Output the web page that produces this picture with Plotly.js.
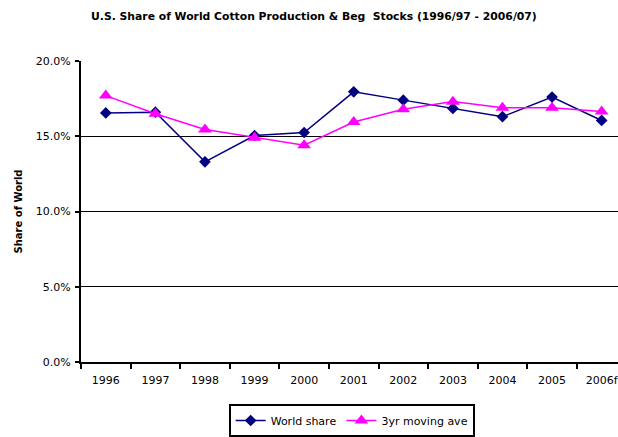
<!DOCTYPE html>
<html>
<head>
<meta charset="utf-8">
<script src="https://cdn.plot.ly/plotly-3.0.1.min.js"></script>
<style>html,body{margin:0;padding:0;background:#fff;}#chart{width:618px;height:437px;}</style>
</head>
<body>
<div id="chart"></div>
<script>
var years = ["1996", "1997", "1998", "1999", "2000", "2001", "2002", "2003", "2004", "2005", "2006f"];
var worldShare = [16.55, 16.6, 13.3, 15.05, 15.25, 17.95, 17.4, 16.85, 16.3, 17.6, 16.05];
var movingAve = [17.7, 16.5, 15.45, 14.9, 14.4, 15.95, 16.8, 17.3, 16.9, 16.9, 16.65];
var yTicks = [0, 5, 10, 15, 20];

var font = "DejaVu Sans, Arial, sans-serif";

var traces = [
  {
    x: years, y: worldShare, name: "World share", type: "scatter", mode: "lines+markers",
    line: {color: "#000080", width: 1.5},
    marker: {symbol: "diamond", size: 9, color: "#000080"}
  },
  {
    x: years, y: movingAve, name: "3yr moving ave", type: "scatter", mode: "lines+markers",
    line: {color: "#FF00FF", width: 1.5},
    marker: {symbol: "triangle-up", size: 12, color: "#FF00FF"}
  }
];

var layout = {
  width: 618, height: 437,
  margin: {l: 81, r: 0, t: 61, b: 74},
  paper_bgcolor: "#fff", plot_bgcolor: "#fff",
  font: {family: font, size: 11, color: "#000"},
  showlegend: true,
  title: {
    text: "U.S. Share of World Cotton Production & Beg  Stocks (1996/97 - 2006/07)",
    font: {family: font, size: 10.8, weight: "bold", color: "#000"},
    xref: "container", x: 0.508, xanchor: "center",
    yref: "container", y: 0.962, yanchor: "middle"
  },
  xaxis: {
    type: "category",
    range: [-0.5, 10.33],
    tickson: "boundaries",
    ticks: "outside", ticklen: 5, tickwidth: 2, tickcolor: "#000",
    showline: true, linecolor: "#000", linewidth: 2,
    showgrid: false, zeroline: false,
    ticklabelstandoff: 7,
    tickfont: {family: font, size: 11, color: "#000"}
  },
  xaxis2: {
    overlaying: "x", side: "top", anchor: "y", range: [0, 1],
    showline: true, linecolor: "#a8a8a8", linewidth: 2,
    showticklabels: false, ticks: "", showgrid: false, zeroline: false
  },
  yaxis: {
    range: [0, 20],
    tickvals: yTicks,
    ticktext: yTicks.map(function (v) { return v.toFixed(1) + "%"; }),
    ticks: "outside", ticklen: 4, tickwidth: 2, tickcolor: "#000",
    showline: true, linecolor: "#000", linewidth: 2,
    showgrid: true, gridcolor: "#000", gridwidth: 1,
    zeroline: false,
    ticklabelstandoff: 2,
    tickfont: {family: font, size: 11, color: "#000"},
    title: {text: "Share of World", font: {family: font, size: 10, weight: "bold", color: "#000"}, standoff: 11}
  },
  legend: {
    orientation: "h",
    x: 0.504, xanchor: "center",
    y: -0.195, yanchor: "middle",
    bordercolor: "#000", borderwidth: 2,
    bgcolor: "#fff",
    font: {family: font, size: 11, color: "#000"},
    itemwidth: 30,
    tracegroupgap: 0
  }
};

Plotly.newPlot("chart", traces, layout, {displayModeBar: false, staticPlot: true});
</script>
</body>
</html>
